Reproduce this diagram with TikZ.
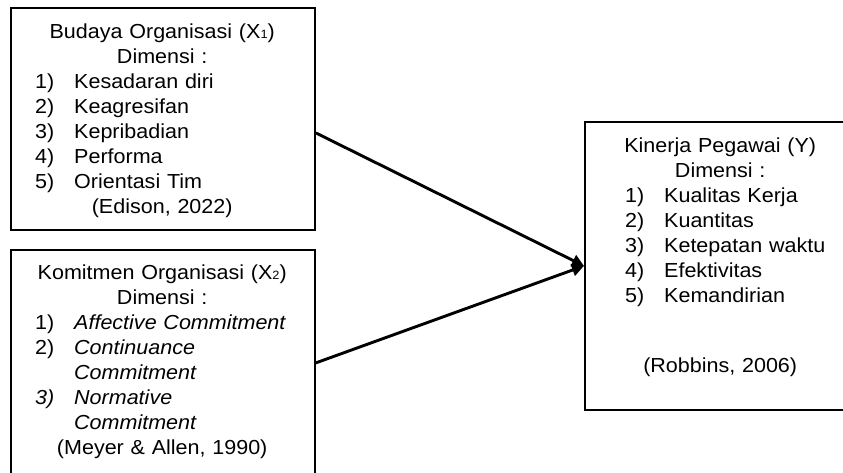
\documentclass[tikz,border=0pt]{standalone}
\usepackage{fontspec}
\setmainfont{Liberation Sans}[FakeStretch=1.06]
\usetikzlibrary{arrows.meta}

% numbered line: number, then the item at a fixed tab
\newcommand{\numline}[2]{\makebox[39pt][l]{#1}#2}
\newcommand{\lowidx}[1]{{\fontsize{12}{12}\selectfont #1}}

\begin{document}
\begin{tikzpicture}[x=1pt,y=-1pt]
	\tikzset{box/.style={draw, line width=1.8pt, inner sep=0pt, anchor=north west},
		boxtext/.style={inner sep=0pt, anchor=base west, align=left,
			font=\fontsize{20.3}{25}\selectfont},
		arr/.style={line width=2.9pt, -{Triangle[length=12pt,width=12pt]}}}
	\clip (0,0) rectangle (843,472);
	% the three boxes
	\node [box, minimum width=304pt, minimum height=222pt] (budaya) at (10,7) {};
	\node [box, minimum width=304pt, minimum height=226pt] (komitmen) at (10,249) {};
	\node [box, minimum width=272pt, minimum height=288pt] (kinerja) at (584,121) {};
	% their texts
	\node [boxtext, text width=304pt] (budayatext) at (10,38) {%
		\makebox[304pt]{Budaya Organisasi (X\lowidx{1})}\\
		\makebox[304pt]{Dimensi :}\\
		\hspace*{25pt}\numline{1)}{Kesadaran diri}\\
		\hspace*{25pt}\numline{2)}{Keagresifan}\\
		\hspace*{25pt}\numline{3)}{Kepribadian}\\
		\hspace*{25pt}\numline{4)}{Performa}\\
		\hspace*{25pt}\numline{5)}{Orientasi Tim}\\
		\makebox[304pt]{(Edison, 2022)}};
	\node [boxtext, text width=304pt] (komitmentext) at (10,279) {%
		\makebox[304pt]{Komitmen Organisasi (X\lowidx{2})}\\
		\makebox[304pt]{Dimensi :}\\
		\hspace*{25pt}\numline{1)}{\textit{Affective Commitment}}\\
		\hspace*{25pt}\numline{2)}{\textit{Continuance}}\\
		\hspace*{25pt}\numline{}{\textit{Commitment}}\\
		\hspace*{25pt}\numline{\textit{3)}}{\textit{Normative}}\\
		\hspace*{25pt}\numline{}{\textit{Commitment}}\\
		\makebox[304pt]{(Meyer \& Allen, 1990)}};
	\node [boxtext, text width=272pt] (kinerjatext) at (584,152) {%
		\makebox[272pt]{Kinerja Pegawai (Y)}\\
		\makebox[272pt]{Dimensi :}\\
		\hspace*{41pt}\numline{1)}{Kualitas Kerja}\\
		\hspace*{41pt}\numline{2)}{Kuantitas}\\
		\hspace*{41pt}\numline{3)}{Ketepatan waktu}\\
		\hspace*{41pt}\numline{4)}{Efektivitas}\\
		\hspace*{41pt}\numline{5)}{Kemandirian}\\[45pt]
		\makebox[272pt]{(Robbins, 2006)}};
	% arrows
	\draw [arr] ([yshift=-14pt]budaya.east) -- (kinerja.west);
	\draw [arr] (komitmen.east) -- (kinerja.west);
\end{tikzpicture}
\end{document}
